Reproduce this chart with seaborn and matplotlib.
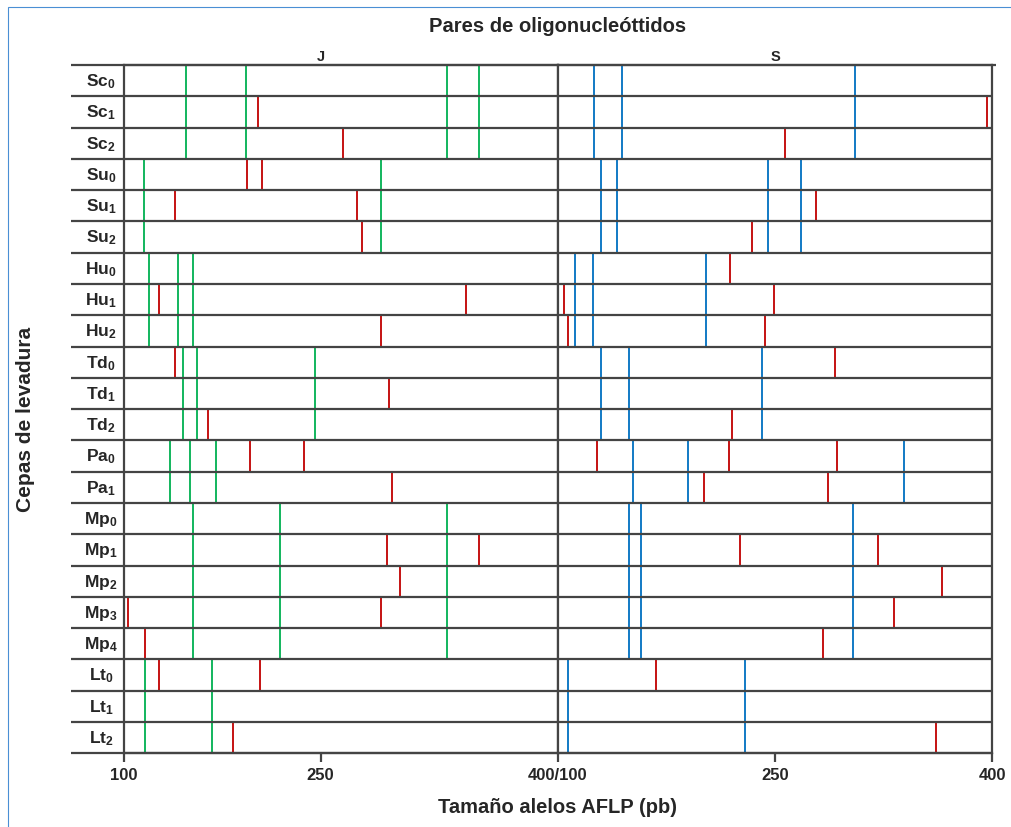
import numpy as np
import pandas as pd
import matplotlib
matplotlib.use("Agg")
import matplotlib.pyplot as plt
import seaborn as sns
from matplotlib.patches import Rectangle
from matplotlib.transforms import blended_transform_factory

# ---------------- data ----------------
strain_codes = ['Sc', 'Sc', 'Sc', 'Su', 'Su', 'Su', 'Hu', 'Hu', 'Hu',
                'Td', 'Td', 'Td', 'Pa', 'Pa', 'Mp', 'Mp', 'Mp', 'Mp', 'Mp',
                'Lt', 'Lt', 'Lt']
strain_sub = [0, 1, 2, 0, 1, 2, 0, 1, 2, 0, 1, 2, 0, 1, 0, 1, 2, 3, 4, 0, 1, 2]

# J primer pair: conserved alleles (green)
j_sc_conserved = [147, 193, 330, 350]
j_su_conserved = [115, 288]
j_hu_conserved = [119, 141, 153]
j_td_conserved = [145, 156, 246]
j_pa_conserved = [135, 150, 170]
j_mp_conserved = [153, 219, 330]
j_lt_conserved = [116, 167]

# J primer pair: polymorphic alleles (red), one list per strain
j_polymorphic = [
    [], [202], [264],
    [194, 205], [139, 273], [276],
    [], [127, 342], [288],
    [139], [293], [164],
    [196, 237], [295],
    [], [292, 350], [300], [103, 288], [116],
    [127, 204], [], [183],
]

# S primer pair: conserved alleles (blue)
s_sc_conserved = [125, 144.5, 305]
s_su_conserved = [130, 141, 245, 268]
s_hu_conserved = [112, 124, 202]
s_td_conserved = [130, 149, 241]
s_pa_conserved = [152, 190, 339]
s_mp_conserved = [149, 157, 304]
s_lt_conserved = [107, 229.5]

# S primer pair: polymorphic alleles (red), one list per strain
s_polymorphic = [
    [], [396], [257],
    [], [278], [234],
    [219], [104, 249], [107, 243],
    [291], [], [220],
    [127, 218, 293], [201, 286.5],
    [], [226, 321], [365], [332], [283],
    [168], [], [361],
]

left_ticks = [100, 250, 400]
left_ticklabels = ['100', '250', '400/100']
right_ticks = [250, 400]
right_ticklabels = ['250', '400']

# ---------------- build long table ----------------
j_cons_by_code = {'Sc': j_sc_conserved, 'Su': j_su_conserved, 'Hu': j_hu_conserved,
                  'Td': j_td_conserved, 'Pa': j_pa_conserved, 'Mp': j_mp_conserved,
                  'Lt': j_lt_conserved}
s_cons_by_code = {'Sc': s_sc_conserved, 'Su': s_su_conserved, 'Hu': s_hu_conserved,
                  'Td': s_td_conserved, 'Pa': s_pa_conserved, 'Mp': s_mp_conserved,
                  'Lt': s_lt_conserved}
records = []
for i, code in enumerate(strain_codes):
    for v in j_cons_by_code[code]:
        records.append((i, 'J', 'conservado', v))
    for v in j_polymorphic[i]:
        records.append((i, 'J', 'polimorfico', v))
    for v in s_cons_by_code[code]:
        records.append((i, 'S', 'conservado', v))
    for v in s_polymorphic[i]:
        records.append((i, 'S', 'polimorfico', v))
df = pd.DataFrame(records, columns=['row', 'panel', 'kind', 'size'])

# ---------------- style ----------------
sns.set_theme(style='white')
plt.rcParams['font.family'] = ['Liberation Sans', 'DejaVu Sans']
plt.rcParams['font.weight'] = 'bold'
plt.rcParams['mathtext.fontset'] = 'custom'
plt.rcParams['mathtext.rm'] = 'Liberation Sans:bold'
plt.rcParams['mathtext.bf'] = 'Liberation Sans:bold'
plt.rcParams['mathtext.it'] = 'Liberation Sans:bold'

GREEN = '#00B050'
RED = '#C00000'
BLUE = '#0070C0'
DARK = '#444444'

W, H = 1011, 828
fig = plt.figure(figsize=(W / 100, H / 100), dpi=100)
fig.patch.set_facecolor('white')

ax_bottom = 1 - 754.3 / H
ax_height = 688.3 / H
axL = fig.add_axes([124 / W, ax_bottom, 434 / W, ax_height])
axR = fig.add_axes([558 / W, ax_bottom, 434.3 / W, ax_height], sharey=axL)

# left panel: axis drawn piecewise-linear as in the original figure
knots_v = [100, 250, 400]
knots_p = [0.0, 196.7, 434.3]
def fwd(v):
    return np.interp(v, knots_v, knots_p)
def inv(p):
    return np.interp(p, knots_p, knots_v)
axL.set_xscale('function', functions=(fwd, inv))

n = len(strain_codes)
colors = {('J', 'conservado'): GREEN, ('J', 'polimorfico'): RED,
          ('S', 'conservado'): BLUE, ('S', 'polimorfico'): RED}

for panel, ax in (('J', axL), ('S', axR)):
    sub = df[df.panel == panel]
    for kind in ('conservado', 'polimorfico'):
        d = sub[sub.kind == kind]
        ax.vlines(d['size'], d['row'], d['row'] + 1, color=colors[(panel, kind)],
                  lw=1.3, zorder=2)
    ax.set_xlim(100, 400)
    ax.set_facecolor('white')
    ax.grid(False)
    for sp in ax.spines.values():
        sp.set_color(DARK)
        sp.set_linewidth(1.6)
        sp.set_visible(True)
    ax.tick_params(axis='y', left=False, right=False, labelleft=False)
    ax.tick_params(axis='x', direction='out', length=6.5, width=1.6, color=DARK,
                   pad=3.5, labelsize=12, bottom=True, top=False)

axL.set_ylim(n, 0)

# row separators
trL = blended_transform_factory(axL.transAxes, axL.transData)
trR = blended_transform_factory(axR.transAxes, axR.transData)
for y in range(n + 1):
    axL.plot([-0.122, 1], [y, y], transform=trL, color=DARK, lw=1.6,
             clip_on=False, zorder=3, solid_capstyle='butt')
    axR.plot([0, 1.008 if y == 0 else 1], [y, y], transform=trR, color=DARK, lw=1.6,
             clip_on=False, zorder=3, solid_capstyle='butt')

axL.set_xticks(left_ticks)
axL.set_xticklabels(left_ticklabels, fontweight='bold')
axR.set_xticks(right_ticks)
axR.set_xticklabels(right_ticklabels, fontweight='bold')
axL.xaxis.set_minor_locator(matplotlib.ticker.NullLocator())
axR.xaxis.set_minor_locator(matplotlib.ticker.NullLocator())

# row labels
for i, (code, s) in enumerate(zip(strain_codes, strain_sub)):
    axL.text(-0.053, i + 0.5, r'$\mathbf{%s}_{\mathbf{%d}}$' % (code, s),
             transform=trL, ha='center', va='center', fontsize=12.5)

# panel labels
axL.text(250, -0.3, 'J', ha='center', va='center', fontsize=10.5, fontweight='bold')
axR.text(250, -0.3, 'S', ha='center', va='center', fontsize=10.5, fontweight='bold')

fig.text(558 / W, 1 - 27 / H, 'Pares de oligonucleóttidos', ha='center', va='center',
         fontsize=14.5, fontweight='bold')
fig.text(558 / W, 1 - 808 / H, 'Tamaño alelos AFLP (pb)', ha='center', va='center',
         fontsize=14.5, fontweight='bold')
fig.text(26 / W, 1 - 419 / H, 'Cepas de levadura', ha='center', va='center',
         rotation=90, fontsize=15, fontweight='bold')

# thin blue frame as in the reference
fig.patches.append(Rectangle((8 / W, -0.02), 1.0, 1.02 - 8 / H, transform=fig.transFigure,
                             fill=False, edgecolor='#4A8FD4', lw=0.8, zorder=0))

fig.savefig('out.png', dpi=100, facecolor='white')
